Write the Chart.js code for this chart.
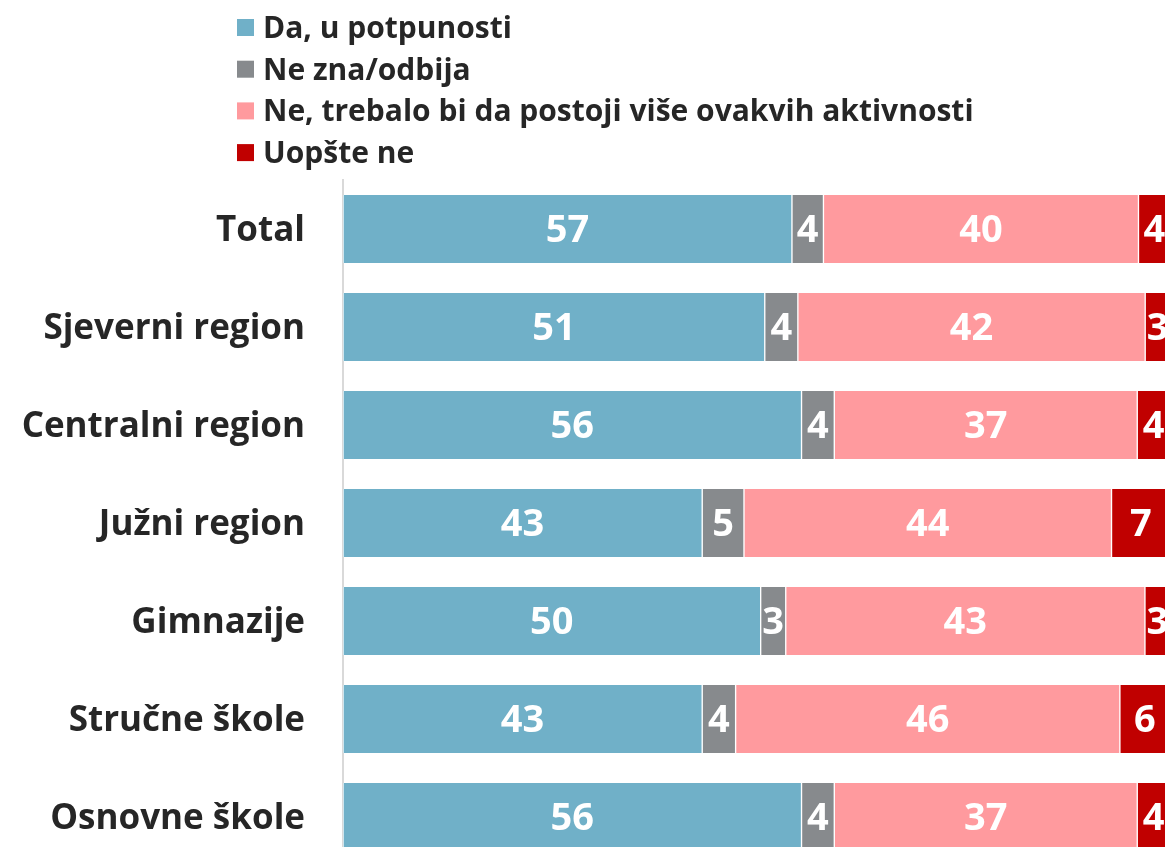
<!DOCTYPE html>
<html>
<head>
<meta charset="utf-8">
<script src="https://cdn.jsdelivr.net/npm/chart.js@4"></script>
<style>
  html, body { margin: 0; padding: 0; background: #fff; overflow: hidden; }
  #wrap { position: absolute; left: 0; top: 0; width: 1170px; height: 925px; }
  #myChart { width: 1170px; height: 925px; }
</style>
</head>
<body>
<div id="wrap"><canvas id="myChart" width="1170" height="925"></canvas></div>
<script>
const categories = ['Total', 'Sjeverni region', 'Centralni region', 'Južni region', 'Gimnazije', 'Stručne škole', 'Osnovne škole'];
const seriesNames = ['Da, u potpunosti', 'Ne zna/odbija', 'Ne, trebalo bi da postoji više ovakvih aktivnosti', 'Uopšte ne'];
const seriesColors = ['#70b0c8', '#878a8d', '#ff9a9e', '#c00000'];

const daPotpuno = [57, 51, 56, 43, 50, 43, 56];
const neZna = [4, 4, 4, 5, 3, 4, 4];
const trebalo = [40, 42, 37, 44, 43, 46, 37];
const uopsteNe = [4, 3, 4, 7, 3, 6, 4];

const series = [daPotpuno, neZna, trebalo, uopsteNe];
const FONT = "'Open Sans', 'Noto Sans', sans-serif";

// each bar fills the full width, so scale each row to its own sum
const rowSums = categories.map((c, i) => series.reduce((s, arr) => s + arr[i], 0));

const datasets = series.map((arr, k) => ({
    label: seriesNames[k],
    data: arr.map((v, i) => v / rowSums[i] * 100),
    raw: arr,
    backgroundColor: seriesColors[k],
    borderColor: '#ffffff',
    borderWidth: { left: 1, right: 1, top: 0, bottom: 0 },
    borderSkipped: false,
    barThickness: 68
}));

const valueLabels = {
    id: 'valueLabels',
    afterDatasetsDraw(chart) {
        const ctx = chart.ctx;
        ctx.save();
        ctx.fillStyle = '#ffffff';
        ctx.font = 'bold 38px ' + FONT;
        ctx.textAlign = 'center';
        ctx.textBaseline = 'middle';
        chart.data.datasets.forEach((ds, k) => {
            chart.getDatasetMeta(k).data.forEach((bar, i) => {
                const cx = (bar.x + bar.base) / 2;
                ctx.fillText(String(ds.raw[i]), cx, bar.y + 2);
            });
        });
        ctx.restore();
    }
};

const legendList = {
    id: 'legendList',
    afterDraw(chart) {
        const ctx = chart.ctx;
        ctx.save();
        ctx.font = 'bold 30px ' + FONT;
        ctx.textBaseline = 'middle';
        ctx.textAlign = 'left';
        seriesNames.forEach((name, k) => {
            const y = 27.5 + k * 41.7;
            ctx.fillStyle = seriesColors[k];
            ctx.fillRect(237, y - 8.5, 17, 17);
            ctx.fillStyle = '#262626';
            ctx.fillText(name, 263, y + 2);
        });
        ctx.restore();
    }
};

new Chart(document.getElementById('myChart').getContext('2d'), {
    type: 'bar',
    data: { labels: categories, datasets: datasets },
    options: {
        indexAxis: 'y',
        responsive: false,
        animation: false,
        layout: { padding: { top: 180, bottom: 4, left: 0, right: 0 } },
        plugins: {
            legend: { display: false },
            tooltip: { enabled: false }
        },
        scales: {
            x: {
                stacked: true,
                min: 0,
                max: 100,
                display: false
            },
            y: {
                stacked: true,
                grid: { display: false, drawTicks: false },
                border: { display: true, color: '#d9d9d9', width: 2 },
                ticks: {
                    color: '#262626',
                    font: { family: FONT, size: 35, weight: 'bold' },
                    padding: 38,
                    labelOffset: 2
                },
                afterFit(scale) { scale.width = 343; }
            }
        }
    },
    plugins: [valueLabels, legendList]
});
</script>
</body>
</html>
